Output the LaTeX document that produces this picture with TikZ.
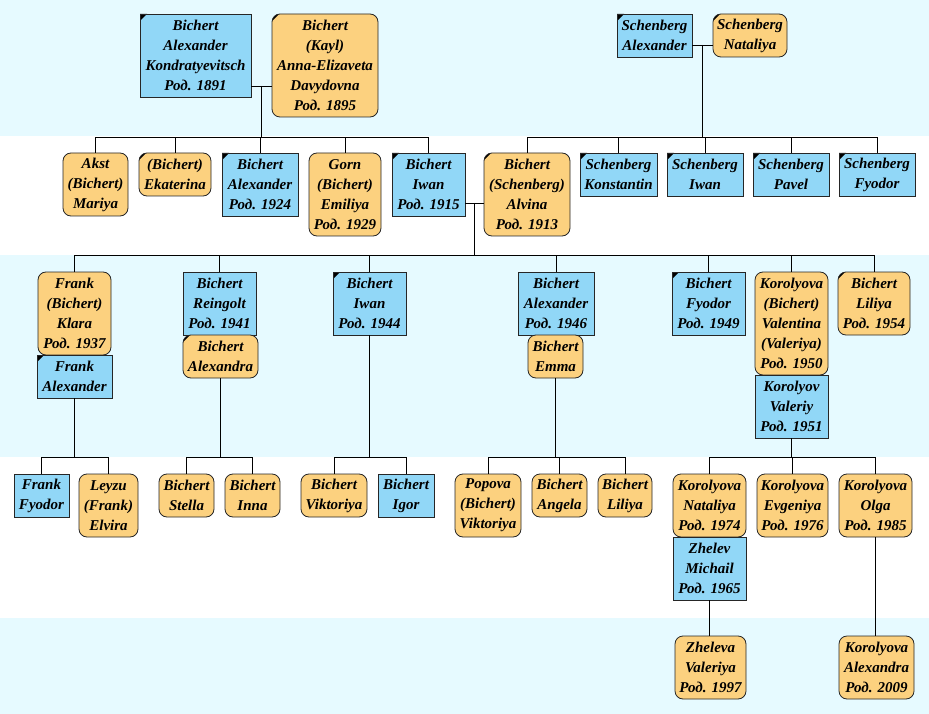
\documentclass[tikz,border=0pt]{standalone}
\usepackage{fontspec}
\setmainfont{Liberation Serif}
\definecolor{manBlue}{HTML}{91D7F7}
\definecolor{womanOrange}{HTML}{FCD17F}
\definecolor{bandCyan}{HTML}{E6FAFF}
\tikzset{%
  % Specifications for style of nodes:
        base/.style = {draw=black!85, line width=0.8pt, inner sep=0pt,
                       align=center,
                       font=\fontsize{15}{20}\selectfont\bfseries\itshape},
        male/.style = {base, fill=manBlue},
      female/.style = {base, fill=womanOrange, rounded corners=8pt},
    deceased/.style = {path picture={\fill[black, sharp corners]
                       (path picture bounding box.north west) -- ++(7pt,0pt)
                       -- ++(-7pt,-7pt) -- cycle;}},
        hTwo/.style = {minimum height=43pt},
      hThree/.style = {minimum height=63pt},
       hFour/.style = {minimum height=83pt},
       hFive/.style = {minimum height=103pt},
        band/.style = {fill=bandCyan, draw=none},
}

\begin{document}
\begin{tikzpicture}[x=1pt, y=-1pt, line width=0.9pt]
  \useasboundingbox (0,0) rectangle (929,714);
  % Background bands for the generations
  \fill[band] (0,0) rectangle (929,136);
  \fill[band] (0,255) rectangle (929,457);
  \fill[band] (0,618) rectangle (929,714);
  % First generation
  \node (bak)  [male, deceased, hFour, minimum width=111pt] at (195.5,55.5)
        {Bichert\\Alexander\\Kondratyevitsch\\Род. 1891};
  \node (bae)  [female, deceased, hFive, minimum width=106pt] at (325,65.5)
        {Bichert\\(Kayl)\\Anna-Elizaveta\\Davydovna\\Род. 1895};
  \node (scha) [male, deceased, hTwo, minimum width=75pt] at (654.5,35.5)
        {Schenberg\\Alexander};
  \node (schn) [female, deceased, hTwo, minimum width=74pt] at (750,35.5)
        {Schenberg\\Nataliya};
  % Second generation
  \node (akst)      [female, hThree, minimum width=65pt] at (95.5,184.5)
        {Akst\\(Bichert)\\Mariya};
  \node (ekaterina) [female, deceased, hTwo, minimum width=72pt] at (175,174.5)
        {(Bichert)\\Ekaterina};
  \node (alexF)     [male, deceased, hThree, minimum width=76pt] at (260,184.5)
        {Bichert\\Alexander\\Род. 1924};
  \node (gorn)      [female, hFour, minimum width=72pt] at (345,194.5)
        {Gorn\\(Bichert)\\Emiliya\\Род. 1929};
  \node (iwanF)     [male, deceased, hThree, minimum width=73pt] at (428.5,184.5)
        {Bichert\\Iwan\\Род. 1915};
  \node (alvina)    [female, deceased, hFour, minimum width=86pt] at (527,194.5)
        {Bichert\\(Schenberg)\\Alvina\\Род. 1913};
  \node (schk) [male, deceased, hTwo, minimum width=77pt] at (618.5,174.5)
        {Schenberg\\Konstantin};
  \node (schi) [male, deceased, hTwo, minimum width=76pt] at (705,174.5)
        {Schenberg\\Iwan};
  \node (schp) [male, deceased, hTwo, minimum width=76pt] at (791,174.5)
        {Schenberg\\Pavel};
  \node (schf) [male, deceased, hTwo, minimum width=76pt] at (877,174.5)
        {Schenberg\\Fyodor};
  % Third generation (spouses stacked below)
  \node (klara)     [female, hFour, minimum width=73pt] at (74.5,313.5)
        {Frank\\(Bichert)\\Klara\\Род. 1937};
  \node (franka)    [male, deceased, hTwo, minimum width=75pt] at (74.5,376.5)
        {Frank\\Alexander};
  \node (reingolt)  [male, hThree, minimum width=73pt] at (219.5,303.5)
        {Bichert\\Reingolt\\Род. 1941};
  \node (alexandra) [female, deceased, hTwo, minimum width=75pt] at (220.5,356.5)
        {Bichert\\Alexandra};
  \node (iwanS)     [male, deceased, hThree, minimum width=73pt] at (369.5,303.5)
        {Bichert\\Iwan\\Род. 1944};
  \node (alexS)     [male, hThree, minimum width=76pt] at (556,303.5)
        {Bichert\\Alexander\\Род. 1946};
  \node (emma)      [female, hTwo, minimum width=55pt] at (555.5,356.5)
        {Bichert\\Emma};
  \node (fyodor)    [male, deceased, hThree, minimum width=73pt] at (708.5,303.5)
        {Bichert\\Fyodor\\Род. 1949};
  \node (valentina) [female, hFive, minimum width=73pt] at (791.5,323.5)
        {Korolyova\\(Bichert)\\Valentina\\(Valeriya)\\Род. 1950};
  \node (valeriy)   [male, hThree, minimum width=73pt] at (791.5,406.5)
        {Korolyov\\Valeriy\\Род. 1951};
  \node (liliyaS)   [female, deceased, hThree, minimum width=72pt] at (874,303.5)
        {Bichert\\Liliya\\Род. 1954};
  % Fourth generation
  \node (ffyodor)   [male, hTwo, minimum width=55pt] at (41.5,495.5)
        {Frank\\Fyodor};
  \node (leyzu)     [female, hThree, minimum width=59pt] at (108.5,505.5)
        {Leyzu\\(Frank)\\Elvira};
  \node (stella)    [female, hTwo, minimum width=55pt] at (186.5,495.5)
        {Bichert\\Stella};
  \node (inna)      [female, hTwo, minimum width=55pt] at (252.5,495.5)
        {Bichert\\Inna};
  \node (viktoriya) [female, hTwo, minimum width=66pt] at (334,495.5)
        {Bichert\\Viktoriya};
  \node (igor)      [male, hTwo, minimum width=56pt] at (406,495.5)
        {Bichert\\Igor};
  \node (popova)    [female, hThree, minimum width=66pt] at (488,505.5)
        {Popova\\(Bichert)\\Viktoriya};
  \node (angela)    [female, hTwo, minimum width=55pt] at (559.5,495.5)
        {Bichert\\Angela};
  \node (liliyaT)   [female, hTwo, minimum width=54pt] at (625,495.5)
        {Bichert\\Liliya};
  \node (knataliya) [female, hThree, minimum width=73pt] at (709.5,505.5)
        {Korolyova\\Nataliya\\Род. 1974};
  \node (michail)   [male, hThree, minimum width=73pt] at (709.5,568.5)
        {Zhelev\\Michail\\Род. 1965};
  \node (evgeniya)  [female, hThree, minimum width=71pt] at (792.5,505.5)
        {Korolyova\\Evgeniya\\Род. 1976};
  \node (olga)      [female, hThree, minimum width=73pt] at (875.5,505.5)
        {Korolyova\\Olga\\Род. 1985};
  % Fifth generation
  \node (zheleva)   [female, hThree, minimum width=71pt] at (710.5,667.5)
        {Zheleva\\Valeriya\\Род. 1997};
  \node (kalex)     [female, hThree, minimum width=75pt] at (876.5,667.5)
        {Korolyova\\Alexandra\\Род. 2009};
  % Couple junctions and bus levels
  \coordinate (famBichert)   at (261,86);
  \coordinate (famSchenberg) at (702,45);
  \coordinate (famIwan)      at (474,203);
  \coordinate (busOne)   at (0,137);
  \coordinate (busTwo)   at (0,255);
  \coordinate (busThree) at (0,457);
  % Lines between couples and to the children
  \draw (bak.east |- famBichert) -- (bae.west |- famBichert);
  \draw (famBichert) -- (famBichert |- busOne);
  \draw (akst.north |- busOne) -- (iwanF.north |- busOne);
  \foreach \kid in {akst, ekaterina, alexF, gorn, iwanF}
    \draw (\kid.north) -- (\kid.north |- busOne);
  \draw (scha.east |- famSchenberg) -- (schn.west |- famSchenberg);
  \draw (famSchenberg) -- (famSchenberg |- busOne);
  \draw (alvina.north |- busOne) -- (schf.north |- busOne);
  \foreach \kid in {alvina, schk, schi, schp, schf}
    \draw (\kid.north) -- (\kid.north |- busOne);
  \draw (iwanF.east |- famIwan) -- (alvina.west |- famIwan);
  \draw (famIwan) -- (famIwan |- busTwo);
  \draw (klara.north |- busTwo) -- (liliyaS.north |- busTwo);
  \foreach \kid in {klara, reingolt, iwanS, alexS, fyodor, valentina, liliyaS}
    \draw (\kid.north) -- (\kid.north |- busTwo);
  \foreach \parent/\first/\last in {franka/ffyodor/leyzu,
      alexandra/stella/inna, iwanS/viktoriya/igor, emma/popova/liliyaT,
      valeriy/knataliya/olga}{
    \draw (\parent.south) -- (\parent.south |- busThree);
    \draw (\first.north |- busThree) -- (\last.north |- busThree);
  }
  \foreach \kid in {ffyodor, leyzu, stella, inna, viktoriya, igor, popova,
      angela, liliyaT, knataliya, evgeniya, olga}
    \draw (\kid.north) -- (\kid.north |- busThree);
  \draw (michail.south) -- (michail.south |- zheleva.north);
  \draw (olga.south) -- (olga.south |- kalex.north);
\end{tikzpicture}
\end{document}
